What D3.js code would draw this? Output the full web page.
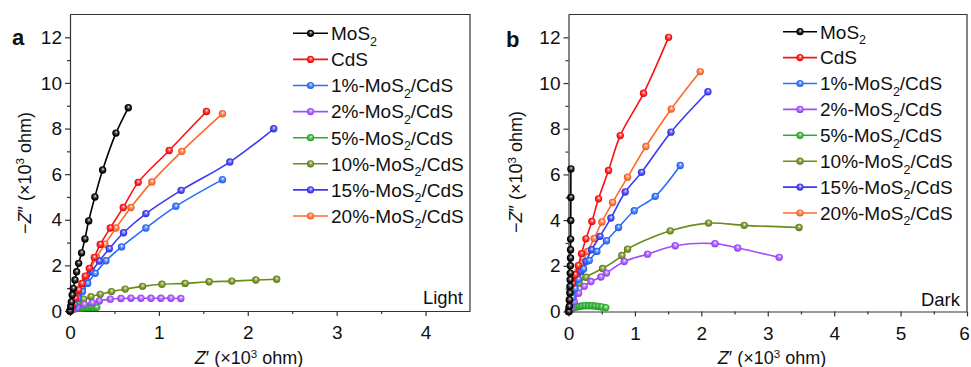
<!DOCTYPE html>
<html><head><meta charset="utf-8">
<script src="https://cdn.jsdelivr.net/npm/d3@7/dist/d3.min.js"></script>
<style>
body{margin:0;background:#fff}
text{font-family:"Liberation Sans",Arial,Helvetica,sans-serif;fill:#111}
</style>
</head><body>
<svg id="c" width="971" height="367"></svg>
<script>
// ---------- series meta ----------
const seriesNames  = ["MoS2","CdS","1%-MoS2/CdS","2%-MoS2/CdS","5%-MoS2/CdS","10%-MoS2/CdS","15%-MoS2/CdS","20%-MoS2/CdS"];
const seriesColors = ["#000000","#ff1010","#2a6cff","#a24cff","#2bb02b","#6b8c1a","#3a3af5","#ff6a2a"];

// ---------- panel a (Light), Z' and -Z'' in 10^3 ohm ----------
const aMoS2X = [0,0.008,0.015,0.025,0.037,0.056,0.074,0.097,0.13,0.168,0.21,0.28,0.367,0.517,0.656];
const aMoS2Y = [0,0.2,0.4,0.7,0.99,1.36,1.72,2.09,2.55,3.16,3.95,5.0,6.18,7.80,8.91];
const aCdSX  = [0,0.025,0.06,0.097,0.135,0.172,0.217,0.273,0.34,0.453,0.599,0.767,1.116,1.535];
const aCdSY  = [0,0.2,0.56,0.92,1.21,1.53,1.87,2.35,2.92,3.64,4.54,5.64,7.04,8.75];
const a1X    = [0,0.01,0.05,0.09,0.14,0.198,0.284,0.404,0.58,0.854,1.191,1.715];
const a1Y    = [0,0.05,0.26,0.56,0.85,1.21,1.65,2.2,2.81,3.64,4.59,5.76];
const a2X    = [0,0.02,0.08,0.16,0.25,0.33,0.453,0.573,0.685,0.798,0.91,1.022,1.135,1.247];
const a2Y    = [0,0.05,0.15,0.29,0.36,0.44,0.52,0.55,0.56,0.56,0.56,0.56,0.56,0.55];
const a5X    = [0,0.01,0.03,0.06,0.09,0.12,0.15,0.18,0.21,0.24,0.27,0.3];
const a5Y    = [0,0.02,0.07,0.1,0.12,0.13,0.14,0.15,0.15,0.16,0.16,0.16];
const a10X   = [0,0.01,0.05,0.093,0.153,0.236,0.34,0.467,0.621,0.816,1.034,1.295,1.565,1.82,2.09,2.325];
const a10Y   = [0,0.08,0.26,0.41,0.52,0.63,0.73,0.85,0.96,1.08,1.17,1.21,1.28,1.31,1.36,1.39];
const a15X   = [0,0.015,0.052,0.094,0.137,0.187,0.246,0.329,0.442,0.602,0.854,1.25,1.798,2.292];
const a15Y   = [0,0.12,0.35,0.64,0.96,1.31,1.72,2.19,2.73,3.43,4.27,5.29,6.53,7.99];
const a20X   = [0,0.041,0.08,0.126,0.172,0.228,0.299,0.393,0.517,0.685,0.921,1.258,1.715];
const a20Y   = [0,0.34,0.7,1.07,1.43,1.84,2.35,2.93,3.64,4.54,5.66,7.0,8.65];

// ---------- panel b (Dark) ----------
const bMoS2X = [0.005,0.012,0.016,0.02,0.022,0.024,0.026,0.028,0.03,0.031,0.032,0.034,0.035,0.036];
const bMoS2Y = [0,0.22,0.51,0.81,1.1,1.39,1.68,2.0,2.34,2.7,3.17,3.98,4.99,6.24];
const bCdSX  = [0,0.01,0.03,0.06,0.101,0.146,0.196,0.262,0.352,0.452,0.602,0.779,1.13,1.506];
const bCdSY  = [0,0.5,0.9,1.24,1.61,2.01,2.53,3.18,3.94,4.93,6.17,7.7,9.55,12.0];
const b1X    = [0,0.02,0.06,0.1,0.15,0.227,0.312,0.427,0.572,0.753,0.99,1.306,1.682];
const b1Y    = [0,0.25,0.6,1.0,1.41,1.86,2.23,2.63,3.1,3.68,4.41,5.04,6.39];
const b2X    = [0,0.04,0.086,0.151,0.236,0.337,0.488,0.572,0.839,1.19,1.607,2.205,2.546,3.173];
const b2Y    = [0,0.12,0.44,0.8,1.1,1.31,1.51,1.68,2.19,2.51,2.88,2.97,2.78,2.37];
const b5X    = [0.02,0.05,0.08,0.12,0.16,0.2,0.25,0.3,0.35,0.4,0.45,0.5,0.56];
const b5Y    = [0.03,0.1,0.17,0.2,0.22,0.24,0.25,0.25,0.25,0.24,0.22,0.2,0.17];
const b10X   = [0,0.015,0.036,0.086,0.16,0.262,0.513,0.804,0.889,1.532,2.109,2.646,3.471];
const b10Y   = [0,0.2,0.59,0.95,1.24,1.5,1.88,2.45,2.73,3.53,3.87,3.77,3.68];
const b15X   = [0,0.01,0.04,0.08,0.133,0.187,0.262,0.347,0.473,0.638,0.854,1.1,1.542,2.099];
const b15Y   = [0,0.15,0.5,0.9,1.31,1.75,2.19,2.7,3.29,4.09,5.23,6.09,7.85,9.62];
const b20X   = [0,0.02,0.05,0.09,0.14,0.211,0.286,0.387,0.502,0.663,0.889,1.165,1.547,1.983];
const b20Y   = [0.1,0.55,0.95,1.3,1.75,2.15,2.63,3.2,3.92,4.77,5.88,7.22,8.86,10.5];

// ---------- ticks ----------
const yMajorTicks = [0,2,4,6,8,10,12];
const yMinorTicks = [1,3,5,7,9,11];
const aXMajorTicks = [0,1,2,3,4];
const aXMinorTicks = [0.5,1.5,2.5,3.5];
const bXMajorTicks = [0,1,2,3,4,5,6];
const bXMinorTicks = [0.5,1.5,2.5,3.5,4.5,5.5];

const zip = (xs, ys) => xs.map((v,i)=>[v, ys[i]]);
const aSeries = [zip(aMoS2X,aMoS2Y),zip(aCdSX,aCdSY),zip(a1X,a1Y),zip(a2X,a2Y),zip(a5X,a5Y),zip(a10X,a10Y),zip(a15X,a15Y),zip(a20X,a20Y)];
const bSeries = [zip(bMoS2X,bMoS2Y),zip(bCdSX,bCdSY),zip(b1X,b1Y),zip(b2X,b2Y),zip(b5X,b5Y),zip(b10X,b10Y),zip(b15X,b15Y),zip(b20X,b20Y)];

const svg = d3.select("#c");
const defs = svg.append("defs");
seriesColors.forEach((c,i)=>{
  const g = defs.append("radialGradient").attr("id","g"+i)
    .attr("cx","50%").attr("cy","50%").attr("r","55%").attr("fx","55%").attr("fy","35%");
  g.append("stop").attr("offset","0%").attr("stop-color","#ffffff");
  g.append("stop").attr("offset","30%").attr("stop-color",d3.interpolateRgb(c,"#ffffff")(0.35));
  g.append("stop").attr("offset","70%").attr("stop-color",c);
  g.append("stop").attr("offset","100%").attr("stop-color",d3.color(c).darker(0.7).formatHex());
});

function addLabel(sel, str){
  const parts = str.split("MoS2");
  parts.forEach((p,i)=>{
    if(i>0){
      sel.append("tspan").text("MoS");
      sel.append("tspan").attr("font-size","12.5px").attr("dy",5.5).text("2");
      sel.append("tspan").attr("dy",-5.5).text(p);
    } else if(p.length) sel.append("tspan").text(p);
  });
}

function panel(o){
  const x = d3.scaleLinear().domain([0,o.xMax]).range([o.left,o.right]);
  const y = d3.scaleLinear().domain([0,13]).range([o.bottom,o.top]);
  const g = svg.append("g");
  // frame top/right
  g.append("path").attr("d",`M${o.left},${o.top}H${o.right}V${o.bottom}`)
    .attr("fill","none").attr("stroke","#333").attr("stroke-width",1.2);
  // x axis
  const xm = g.append("g").attr("transform",`translate(0,${o.bottom})`)
    .call(d3.axisBottom(x).tickValues(o.xMinor).tickSize(3).tickFormat(""));
  xm.select(".domain").remove();
  const xa = g.append("g").attr("transform",`translate(0,${o.bottom})`)
    .call(d3.axisBottom(x).tickValues(o.xMajor).tickSize(5).tickSizeOuter(0).tickPadding(10).tickFormat(d3.format("d")));
  // y axis
  const ym = g.append("g").attr("transform",`translate(${o.left},0)`)
    .call(d3.axisLeft(y).tickValues(yMinorTicks).tickSize(3).tickFormat(""));
  ym.select(".domain").remove();
  const ya = g.append("g").attr("transform",`translate(${o.left},0)`)
    .call(d3.axisLeft(y).tickValues(yMajorTicks).tickSize(5).tickSizeOuter(0).tickPadding(3).tickFormat(d3.format("d")));
  [xm,xa,ym,ya].forEach(a=>{
    a.selectAll("line").attr("stroke","#333").attr("stroke-width",1.2);
    a.selectAll(".domain").attr("stroke","#333").attr("stroke-width",1.2);
    a.selectAll("text").attr("font-size","19px").attr("fill","#111")
      .attr("font-family","'Liberation Sans',Arial,sans-serif");
  });
  // keep last x label inside the window
  xa.selectAll(".tick text").filter(d=>d===6).attr("dx",-3);

  // series (draw last legend entry first so MoS2 is on top)
  const line = d3.line().x(d=>x(d[0])).y(d=>y(d[1])).curve(d3.curveCatmullRom.alpha(0.5));
  const order = [7,6,5,4,3,2,1,0];
  order.forEach(i=>{
    const s = o.series[i];
    const sg = g.append("g");
    sg.append("path").datum(s).attr("d",line).attr("fill","none")
      .attr("stroke",seriesColors[i]).attr("stroke-width",1.6);
    sg.selectAll("circle").data(s).join("circle")
      .attr("cx",d=>x(d[0])).attr("cy",d=>y(d[1])).attr("r",3.7)
      .attr("fill",`url(#g${i})`);
  });

  // legend
  seriesNames.forEach((n,i)=>{
    const cy = o.legY0 + i*o.legStep;
    g.append("line").attr("x1",o.legX1).attr("x2",o.legX2).attr("y1",cy).attr("y2",cy)
      .attr("stroke",seriesColors[i]).attr("stroke-width",1.6);
    g.append("circle").attr("cx",(o.legX1+o.legX2)/2).attr("cy",cy).attr("r",3.6).attr("fill",`url(#g${i})`);
    const t = g.append("text").attr("x",o.legX2+3).attr("y",cy+6.8).attr("font-size","19px");
    addLabel(t,n);
  });

  // condition label
  g.append("text").attr("x",o.condX).attr("y",o.condY).attr("text-anchor","end")
    .attr("font-size","18.5px").text(o.cond);
  // panel letter
  g.append("text").attr("x",o.letX).attr("y",o.letY).attr("font-size","22px")
    .attr("font-weight","bold").text(o.letter);
  // x title
  const xt = g.append("text").attr("x",o.xtX).attr("y",o.xtY).attr("text-anchor","middle").attr("font-size","18px");
  xt.append("tspan").attr("font-style","italic").text("Z");
  xt.append("tspan").text("\u2032 (\u00d710");
  xt.append("tspan").attr("font-size","11.5px").attr("dy",-6.5).text("3");
  xt.append("tspan").attr("dy",6.5).text(" ohm)");
  // y title
  const yt = g.append("text").attr("transform",`translate(${o.ytX},${o.ytY}) rotate(-90)`)
    .attr("text-anchor","middle").attr("font-size","18px");
  yt.append("tspan").text("\u2212");
  yt.append("tspan").attr("font-style","italic").text("Z");
  yt.append("tspan").text("\u2033 (\u00d710");
  yt.append("tspan").attr("font-size","11.5px").attr("dy",-6.5).text("3");
  yt.append("tspan").attr("dy",6.5).text(" ohm)");
}

panel({left:70,right:470,top:14.5,bottom:311,xMax:4.5,xMajor:aXMajorTicks,xMinor:aXMinorTicks,
  series:aSeries,legX1:293,legX2:328,legY0:33.3,legStep:26.1,
  cond:"Light",condX:463,condY:304,letter:"a",letX:12,letY:45,
  xtX:249,xtY:364,ytX:30.5,ytY:173});
panel({left:568.5,right:967,top:14.5,bottom:311.5,xMax:6,xMajor:bXMajorTicks,xMinor:bXMinorTicks,
  series:bSeries,legX1:783,legX2:817,legY0:31.7,legStep:25.9,
  cond:"Dark",condX:960,condY:305.5,letter:"b",letX:506,letY:47,
  xtX:772,xtY:364,ytX:522,ytY:172});
</script>
</body></html>
